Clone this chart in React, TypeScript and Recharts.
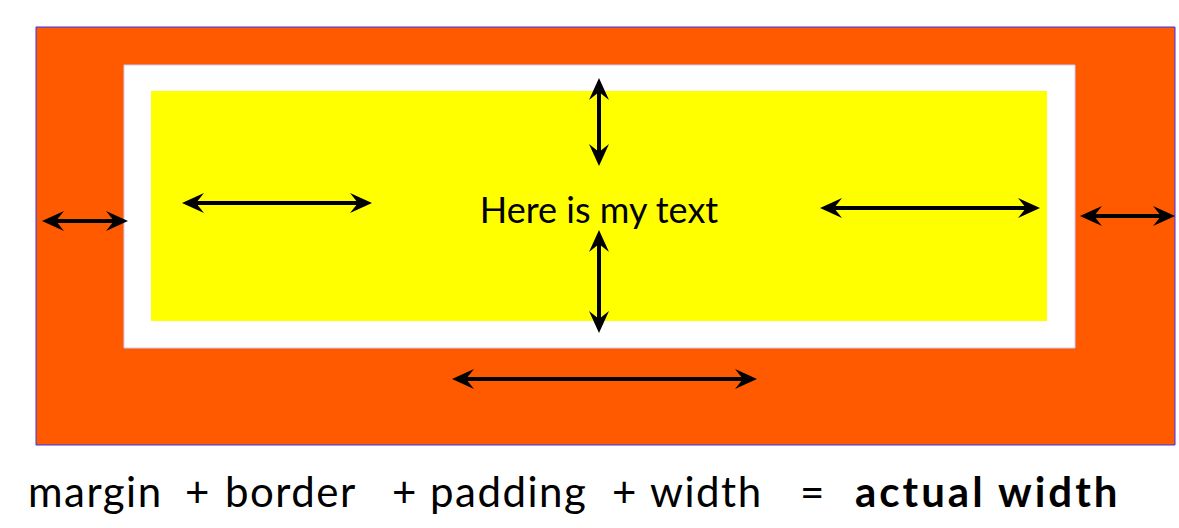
import React from "react";
import { ComposedChart, XAxis, YAxis, ReferenceArea, ReferenceLine, Label, Scatter } from "recharts";

const boxes = [
  { name: "margin", x1: 36, x2: 1175, y1: 27, y2: 445, fill: "#ff5a00", stroke: "#3333ff" },
  { name: "border", x1: 124, x2: 1075, y1: 65, y2: 348, fill: "#ffffff", stroke: "#ccccff" },
  { name: "padding", x1: 151, x2: 1047, y1: 91, y2: 321, fill: "#ffff00", stroke: "none" },
];
const arrows = [
  { x1: 42, y1: 221, x2: 128, y2: 221 },
  { x1: 182, y1: 203, x2: 372, y2: 203 },
  { x1: 820, y1: 208, x2: 1040, y2: 208 },
  { x1: 1080, y1: 216, x2: 1175, y2: 216 },
  { x1: 452, y1: 379, x2: 757, y2: 379 },
  { x1: 599, y1: 78, x2: 599, y2: 166 },
  { x1: 599, y1: 230, x2: 599, y2: 333 },
];
const corners = [
  { x: 0, y: 0 },
  { x: 1179, y: 528 },
];
const words = [
  { t: "margin", x: 28, b: false },
  { t: "+", x: 185, b: false },
  { t: "border", x: 225, b: false },
  { t: "+", x: 392, b: false },
  { t: "padding", x: 430, b: false },
  { t: "+", x: 612, b: false },
  { t: "width", x: 650, b: false },
  { t: "=", x: 800, b: false },
  { t: "actual width", x: 855, b: true },
];

function head(tx: number, ty: number, dx: number, dy: number) {
  const L = 22, W = 10, N = 14;
  const px = -dy, py = dx;
  const bx = tx - dx * L, by = ty - dy * L;
  const nx = tx - dx * N, ny = ty - dy * N;
  return `${tx},${ty} ${bx + px * W},${by + py * W} ${nx},${ny} ${bx - px * W},${by - py * W}`;
}

const ArrowShape = (p: any) => {
  const { x1, y1, x2, y2 } = p;
  if ([x1, y1, x2, y2].some((v) => typeof v !== "number" || isNaN(v))) return <g />;
  const len = Math.hypot(x2 - x1, y2 - y1) || 1;
  const dx = (x2 - x1) / len, dy = (y2 - y1) / len;
  return (
    <g>
      <line x1={x1 + dx * 10} y1={y1 + dy * 10} x2={x2 - dx * 10} y2={y2 - dy * 10} stroke="#000" strokeWidth={4} />
      <polygon points={head(x2, y2, dx, dy)} fill="#000" />
      <polygon points={head(x1, y1, -dx, -dy)} fill="#000" />
    </g>
  );
};

export default function App() {
  return (
    <div style={{ position: "absolute", left: 0, top: 0, width: 1179, height: 528, background: "#fff" }}>
      <ComposedChart width={1179} height={528} margin={{ top: 0, right: 0, bottom: 0, left: 0 }}>
        <XAxis type="number" dataKey="x" domain={[0, 1179]} hide allowDataOverflow />
        <YAxis type="number" dataKey="y" domain={[0, 528]} reversed hide allowDataOverflow />
        <Scatter data={corners} fill="none" isAnimationActive={false} shape={() => <g />} />
        {boxes.map((b) => (
          <ReferenceArea key={b.name} x1={b.x1} x2={b.x2} y1={b.y1} y2={b.y2} fill={b.fill} fillOpacity={1} stroke={b.stroke} strokeWidth={1} ifOverflow="visible">
            {b.name === "padding" ? (
              <Label value="Here is my text" position="center" dy={4} style={{ fontFamily: "Lato", fontSize: 36, fill: "#000" }} />
            ) : null}
          </ReferenceArea>
        ))}
        {arrows.map((a, i) => (
          <ReferenceLine key={i} segment={[{ x: a.x1, y: a.y1 }, { x: a.x2, y: a.y2 }]} shape={ArrowShape} ifOverflow="visible" />
        ))}
      </ComposedChart>
      {words.map((w, i) => (
        <span key={i} style={{ position: "absolute", left: w.x, top: 466, fontFamily: "Lato", fontSize: 42, fontWeight: w.b ? 700 : 400, letterSpacing: w.b ? 3 : 1.5, color: "#000", whiteSpace: "nowrap", lineHeight: "50px" }}>
          {w.t}
        </span>
      ))}
    </div>
  );
}
